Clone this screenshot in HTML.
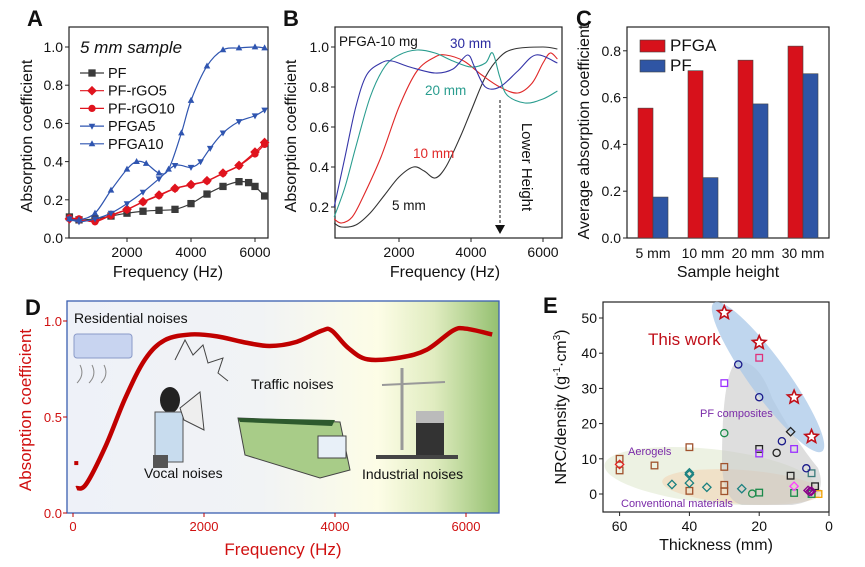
<!DOCTYPE html>
<html><head><meta charset="utf-8"><style>
html,body{margin:0;padding:0;background:#fff;}
svg{display:block;font-family:"Liberation Sans",Arial,sans-serif;}
</style></head><body>
<svg id="fig" width="865" height="567" viewBox="0 0 865 567">
<defs>
<linearGradient id="dbg" x1="0" x2="1" y1="0" y2="0">
<stop offset="0" stop-color="#eef1f8"/><stop offset="0.45" stop-color="#f1f3f5"/><stop offset="0.72" stop-color="#fdfde6"/><stop offset="0.85" stop-color="#e0ecc0"/><stop offset="1" stop-color="#94c070"/>
</linearGradient>
</defs>
<g id="gA"></g>
<g id="gB"></g>
<g id="gC"></g>
<g id="gD"></g>
<g id="gE"></g>
</svg>
<script>
// ---------- Panel A data ----------
const aFreqPF=[200,500,1000,1500,2000,2500,3000,3500,4000,4500,5000,5500,5800,6000,6300];
const aPF=[0.11,0.095,0.1,0.115,0.13,0.14,0.145,0.15,0.18,0.23,0.27,0.295,0.29,0.27,0.22];
const aFreqRGO=[200,500,1000,1500,2000,2500,3000,3500,4000,4500,5000,5500,6000,6300];
const aRGO5=[0.1,0.095,0.09,0.12,0.15,0.19,0.225,0.26,0.28,0.3,0.34,0.38,0.45,0.5];
const aRGO10=[0.105,0.1,0.085,0.118,0.148,0.188,0.222,0.258,0.278,0.298,0.338,0.378,0.44,0.49];
const aFreqGA5=[200,500,1000,1500,2000,2500,3000,3500,4000,4300,4600,5000,5500,6000,6300];
const aPFGA5=[0.1,0.085,0.1,0.13,0.18,0.24,0.31,0.38,0.37,0.4,0.47,0.55,0.61,0.64,0.67];
const aFreqGA10=[200,500,1000,1500,2000,2300,2600,3000,3300,3700,4000,4500,5000,5500,6000,6300];
const aPFGA10=[0.1,0.095,0.13,0.25,0.36,0.4,0.39,0.34,0.36,0.55,0.72,0.9,0.985,0.995,1.0,0.995];
const aXTicks=[2000,4000,6000];
const aYTicks=[0.0,0.2,0.4,0.6,0.8,1.0];
// ---------- Panel B data ----------
const b5f=[200,400,800,1200,1600,2000,2400,2700,3000,3300,3700,4000,4400,4800,5200,6000,6400];
const b5v=[0.12,0.1,0.11,0.17,0.26,0.35,0.4,0.38,0.345,0.4,0.55,0.68,0.85,0.95,0.99,1.0,0.99];
const b10f=[200,400,700,1000,1500,2000,2500,3000,3300,3800,4300,4800,5300,5700,6000,6200,6400];
const b10v=[0.14,0.12,0.15,0.25,0.45,0.7,0.88,0.95,0.96,0.93,0.86,0.8,0.77,0.82,0.92,0.97,0.94];
const b20f=[200,500,800,1200,1600,2000,2500,3000,3500,4000,4400,4600,4800,5000,5500,6000,6400];
const b20v=[0.15,0.3,0.5,0.75,0.9,0.96,0.985,0.97,0.93,0.9,0.92,0.97,0.85,0.76,0.72,0.74,0.78];
const b30f=[200,500,800,1100,1500,1800,2300,3000,3500,3900,4100,4400,4800,5300,5800,6400];
const b30v=[0.2,0.45,0.7,0.86,0.92,0.93,0.9,0.87,0.89,0.96,0.9,0.8,0.8,0.88,0.96,0.92];
const bYTicks=[0.2,0.4,0.6,0.8,1.0];
// ---------- Panel C data ----------
const cCats=["5 mm","10 mm","20 mm","30 mm"];
const cPFGA=[0.555,0.715,0.76,0.82];
const cPF=[0.175,0.258,0.573,0.702];
const cYTicks=[0.0,0.2,0.4,0.6,0.8];
// ---------- Panel D data ----------
const dFreq=[50,200,500,800,1100,1400,1800,2200,2600,3000,3400,3800,3950,4200,4500,5000,5400,5800,6000,6400];
const dVal=[0.13,0.15,0.35,0.6,0.8,0.9,0.93,0.92,0.89,0.87,0.89,0.95,0.95,0.86,0.8,0.81,0.85,0.95,0.96,0.93];
const dXTicks=[0,2000,4000,6000];
const dYTicks=[0.0,0.5,1.0];
// ---------- Panel E data ----------
const eStarT=[30,20,10,5];
const eStarV=[51.5,43,27.5,16.3];
const eSqT=[20,30,20,20,10,11,5,4,3,10,20,5,60,60,50,40,30,30,30,40];
const eSqV=[38.7,31.5,12.8,11.5,12.8,5.2,5.9,2.2,0,0.3,0.4,0,10,6.7,8.1,13.3,7.7,2.6,0.8,0.9];
const eSqC=["#e0307a","#9b30ff","#222","#9b30ff","#9b30ff","#222","#3a7a7a","#222","#f0a000","#1a8a4a","#1a8a4a","#1a8a4a","#a0522d","#a0522d","#a0522d","#a0522d","#a0522d","#a0522d","#a0522d","#a0522d"];
const eCiT=[26,20,13.5,6.5,30,22,15];
const eCiV=[36.8,27.5,15,7.3,17.3,0.1,11.7];
const eCiC=["#1a1a8a","#1a1a8a","#1a1a8a","#1a1a8a","#1a8a4a","#1a8a4a","#222"];
const eDiT=[11,45,40,40,40,35,25,60,10,6,5,5.5];
const eDiV=[17.7,2.7,6,5.5,3.1,1.9,1.5,8.4,2.2,1.0,0.8,0.7];
const eDiC=["#222","#1a8080","#1a8080","#1a8080","#1a8080","#1a8080","#1a8080","#e02020","#ff40ff","#8b008b","#8b008b","#8b008b"];
const eXTicks=[60,40,20,0];
const eYTicks=[0,10,20,30,40,50];

const NS="http://www.w3.org/2000/svg";
function mk(parent,tag,attrs,txt){const e=document.createElementNS(NS,tag);for(const k in attrs)e.setAttribute(k,attrs[k]);if(txt!==undefined)e.textContent=txt;parent.appendChild(e);return e;}
function smooth(pts){let d="M"+pts[0][0]+","+pts[0][1];for(let i=0;i<pts.length-1;i++){const p0=pts[Math.max(0,i-1)],p1=pts[i],p2=pts[i+1],p3=pts[Math.min(pts.length-1,i+2)];const c1x=p1[0]+(p2[0]-p0[0])/6,c1y=p1[1]+(p2[1]-p0[1])/6,c2x=p2[0]-(p3[0]-p1[0])/6,c2y=p2[1]-(p3[1]-p1[1])/6;d+=" C"+c1x+","+c1y+" "+c2x+","+c2y+" "+p2[0]+","+p2[1];}return d;}
function marker(g,shape,x,y,color,s,fill){let e;
 if(shape==="sq")e=mk(g,"rect",{x:x-s,y:y-s,width:2*s,height:2*s,fill:fill||color,stroke:color,"stroke-width":1.3});
 else if(shape==="ci")e=mk(g,"circle",{cx:x,cy:y,r:s,fill:fill||color,stroke:color,"stroke-width":1.3});
 else if(shape==="di")e=mk(g,"polygon",{points:`${x},${y-s*1.3} ${x+s*1.3},${y} ${x},${y+s*1.3} ${x-s*1.3},${y}`,fill:fill||color,stroke:color,"stroke-width":1.3});
 else if(shape==="up")e=mk(g,"polygon",{points:`${x},${y-s*1.2} ${x+s*1.1},${y+s*0.8} ${x-s*1.1},${y+s*0.8}`,fill:color});
 else if(shape==="dn")e=mk(g,"polygon",{points:`${x},${y+s*1.2} ${x+s*1.1},${y-s*0.8} ${x-s*1.1},${y-s*0.8}`,fill:color});
 else if(shape==="star"){let p=[];for(let i=0;i<10;i++){const r=i%2?s*0.45:s,a=-Math.PI/2+i*Math.PI/5;p.push((x+r*Math.cos(a)).toFixed(1)+","+(y+r*Math.sin(a)).toFixed(1));}e=mk(g,"polygon",{points:p.join(" "),fill:"#fff",stroke:color,"stroke-width":1.6});}
 return e;}
function text(g,x,y,t,o){return mk(g,"text",Object.assign({x:x,y:y,"font-size":13,fill:"#111"},o||{}),t);}

// ================= Panel A =================
(function(){const g=document.getElementById("gA");
const sx=f=>63+f*0.032, sy=v=>238-v*191;
const L=69,R=268,T=27,B=238;
const box=mk(g,"rect",{x:L,y:T,width:R-L,height:B-T,fill:"none",stroke:"#222","stroke-width":1.2});


aXTicks.forEach(t=>{mk(g,"line",{x1:sx(t),x2:sx(t),y1:B,y2:B+4,stroke:"#222"});const tl=text(g,sx(t),B+19,String(t),{"text-anchor":"middle","font-size":14});

});
aYTicks.forEach(t=>{mk(g,"line",{x1:L-4,x2:L,y1:sy(t),y2:sy(t),stroke:"#222"});const tl=text(g,L-6,sy(t)+5,t.toFixed(1),{"text-anchor":"end","font-size":14});

});
const series=[[aFreqPF,aPF,"#3a3a3a","sq","pf"],[aFreqRGO,aRGO5,"#e0141e","di","pf-rgo5"],[aFreqRGO,aRGO10,"#e0141e","ci","pf-rgo10"],[aFreqGA5,aPFGA5,"#2f55b0","dn","pfga5"],[aFreqGA10,aPFGA10,"#2f55b0","up","pfga10"]];
series.forEach(s=>{const pts=s[0].map((f,i)=>[sx(f),sy(s[1][i])]);
const p=mk(g,"path",{d:smooth(pts),fill:"none",stroke:s[2],"stroke-width":1.2});


pts.forEach(q=>{const m=marker(g,s[3],q[0],q[1],s[2],3);

});});
const t5=text(g,80,53,"5 mm sample",{"font-size":17,"font-style":"italic"});


const names=["PF","PF-rGO5","PF-rGO10","PFGA5","PFGA10"];
names.forEach((n,i)=>{const y=73+i*17.7;const lg=mk(g,"g",{});


mk(lg,"line",{x1:80,x2:104,y1:y,y2:y,stroke:series[i][2],"stroke-width":1.2});marker(lg,series[i][3],92,y,series[i][2],3);text(lg,108,y+5,n,{"font-size":14.5});});
const xt=text(g,168,277,"Frequency (Hz)",{"text-anchor":"middle","font-size":16});


const yt=text(g,0,0,"Absorption coefficient",{"text-anchor":"middle","font-size":16,transform:"translate(32,136) rotate(-90)"});


const lbl=text(g,27,26,"A",{"font-size":22,"font-weight":"bold"});


})();

// ================= Panel B =================
(function(){const g=document.getElementById("gB");
const sx=f=>327+f*0.036, sy=v=>247-v*200;
const L=335,R=562,T=27,B=238;
const box=mk(g,"rect",{x:L,y:T,width:R-L,height:B-T,fill:"none",stroke:"#222","stroke-width":1.2});


aXTicks.forEach(t=>{mk(g,"line",{x1:sx(t),x2:sx(t),y1:B,y2:B+4,stroke:"#222"});const tl=text(g,sx(t),B+19,String(t),{"text-anchor":"middle","font-size":14});

});
bYTicks.forEach(t=>{mk(g,"line",{x1:L-4,x2:L,y1:sy(t),y2:sy(t),stroke:"#222"});const tl=text(g,L-6,sy(t)+5,t.toFixed(1),{"text-anchor":"end","font-size":14});

});
const ser=[[b5f,b5v,"#333","5mm"],[b10f,b10v,"#e02828","10mm"],[b20f,b20v,"#2a9d8f","20mm"],[b30f,b30v,"#3535a8","30mm"]];
ser.forEach(s=>{const p=mk(g,"path",{d:smooth(s[0].map((f,i)=>[sx(f),sy(s[1][i])])),fill:"none",stroke:s[2],"stroke-width":1.1});

});
const labs=[[339,46,"PFGA-10 mg","#111"],[450,48,"30 mm","#2a2aa0"],[425,95,"20 mm","#2a9d8f"],[413,158,"10 mm","#e02828"],[392,210,"5 mm","#111"]];
labs.forEach(l=>{const t=text(g,l[0],l[1],l[2],{fill:l[3],"font-size":13.5});

});
const ar=mk(g,"line",{x1:500,x2:500,y1:100,y2:226,stroke:"#111","stroke-dasharray":"3,2"});


mk(g,"polygon",{points:"495,225 505,225 500,234",fill:"#111"});
const lh=text(g,0,0,"Lower Height",{"font-size":15,"text-anchor":"middle",transform:"translate(522,167) rotate(90)"});


const xt=text(g,445,277,"Frequency (Hz)",{"text-anchor":"middle","font-size":16});


const yt=text(g,0,0,"Absorption coefficient",{"text-anchor":"middle","font-size":16,transform:"translate(296,136) rotate(-90)"});


const lbl=text(g,283,26,"B",{"font-size":22,"font-weight":"bold"});


})();

// ================= Panel C =================
(function(){const g=document.getElementById("gC");
const sy=v=>238-v*234, cx=i=>653+i*50;
const L=627,R=829,T=27,B=238;
const box=mk(g,"rect",{x:L,y:T,width:R-L,height:B-T,fill:"none",stroke:"#222","stroke-width":1.2});


cYTicks.forEach(t=>{mk(g,"line",{x1:L-4,x2:L,y1:sy(t),y2:sy(t),stroke:"#222"});const tl=text(g,L-6,sy(t)+5,t.toFixed(1),{"text-anchor":"end","font-size":14});

});
cCats.forEach((c,i)=>{
const b1=mk(g,"rect",{x:cx(i)-15,y:sy(cPFGA[i]),width:15,height:B-sy(cPFGA[i]),fill:"#d7111b",stroke:"#444","stroke-width":0.6});


const b2=mk(g,"rect",{x:cx(i),y:sy(cPF[i]),width:15,height:B-sy(cPF[i]),fill:"#2f55a4",stroke:"#444","stroke-width":0.6});


const tl=text(g,cx(i),B+20,c,{"text-anchor":"middle","font-size":14});

});
const l1=mk(g,"g",{});


mk(l1,"rect",{x:640,y:40,width:25,height:12,fill:"#d7111b",stroke:"#444","stroke-width":0.6});text(l1,670,51,"PFGA",{"font-size":17});
const l2=mk(g,"g",{});


mk(l2,"rect",{x:640,y:60,width:25,height:12,fill:"#2f55a4",stroke:"#444","stroke-width":0.6});text(l2,670,71,"PF",{"font-size":17});
const xt=text(g,728,277,"Sample height",{"text-anchor":"middle","font-size":16});


const yt=text(g,0,0,"Average absorption coefficient",{"text-anchor":"middle","font-size":16,transform:"translate(589,132) rotate(-90)"});


const lbl=text(g,576,26,"C",{"font-size":22,"font-weight":"bold"});


})();

// ================= Panel D =================
(function(){const g=document.getElementById("gD");
const sx=f=>73+f*0.0655, sy=v=>513-v*192;
const L=67,R=499,T=301,B=513;
const bg=mk(g,"rect",{x:L,y:T,width:R-L,height:B-T,fill:"url(#dbg)",stroke:"#3a5fb0","stroke-width":1.3});


// icons
const ac=mk(g,"g",{});


mk(ac,"rect",{x:74,y:334,width:58,height:24,rx:3,fill:"#c8d4f0",stroke:"#8a9ac8"});
mk(ac,"path",{d:"M80 365 q5 10 -3 18 M92 365 q5 10 -3 18 M104 365 q5 10 -3 18",fill:"none",stroke:"#888"});
const man=mk(g,"g",{});


mk(man,"path",{d:"M175 360 l10 -20 l8 15 l10 -10 l5 18 l15 -5 l-5 15 l10 8",fill:"none",stroke:"#444"});
mk(man,"ellipse",{cx:170,cy:400,rx:10,ry:13,fill:"#222"});
mk(man,"rect",{x:155,y:412,width:28,height:50,fill:"#c8dcee",stroke:"#555"});
mk(man,"rect",{x:153,y:455,width:15,height:13,fill:"#555"});
mk(man,"polygon",{points:"180,408 200,392 204,430 184,420",fill:"#eee",stroke:"#444"});
const tr=mk(g,"g",{});


mk(tr,"polygon",{points:"238,418 340,422 350,470 320,478 245,455",fill:"#a8cc88",stroke:"#444"});
mk(tr,"polygon",{points:"238,418 335,420 332,426 240,422",fill:"#2d5a2d"});
mk(tr,"rect",{x:318,y:436,width:28,height:22,fill:"#e8f0f8",stroke:"#444"});
const bd=mk(g,"g",{});


mk(bd,"line",{x1:402,x2:402,y1:368,y2:450,stroke:"#999","stroke-width":3});
mk(bd,"line",{x1:382,x2:445,y1:385,y2:382,stroke:"#999","stroke-width":2});
mk(bd,"rect",{x:416,y:411,width:28,height:46,fill:"#333"});
mk(bd,"rect",{x:416,y:411,width:28,height:12,fill:"#bbb"});
mk(bd,"rect",{x:376,y:455,width:82,height:4,fill:"#444"});
const nl=[[74,323,"Residential noises"],[144,478,"Vocal noises"],[251,389,"Traffic noises"],[362,479,"Industrial noises"]];
nl.forEach(n=>{const t=text(g,n[0],n[1],n[2],{"font-size":14});

});
const p=mk(g,"path",{d:smooth(dFreq.map((f,i)=>[sx(f),sy(dVal[i])])),fill:"none",stroke:"#c00000","stroke-width":4.5});


mk(g,"rect",{x:sx(50)-2,y:sy(0.26)-2,width:4,height:4,fill:"#c00000"});
dXTicks.forEach(t=>{mk(g,"line",{x1:sx(t),x2:sx(t),y1:B,y2:B+4,stroke:"#c00000"});const tl=text(g,sx(t),B+18,String(t),{"text-anchor":"middle","font-size":13,fill:"#d01010"});

});
dYTicks.forEach(t=>{mk(g,"line",{x1:L-4,x2:L,y1:sy(t),y2:sy(t),stroke:"#c00000"});const tl=text(g,L-5,sy(t)+5,t.toFixed(1),{"text-anchor":"end","font-size":13,fill:"#d01010"});

});
const xt=text(g,283,555,"Frequency (Hz)",{"text-anchor":"middle","font-size":17,fill:"#d01010"});


const yt=text(g,0,0,"Absorption coefficient",{"text-anchor":"middle","font-size":17,fill:"#d01010",transform:"translate(31,410) rotate(-90)"});


const lbl=text(g,25,315,"D",{"font-size":22,"font-weight":"bold"});


})();

// ================= Panel E =================
(function(){const g=document.getElementById("gE");
const sx=t=>829-t*3.49, sy=v=>494-v*3.52;
const L=603,R=829,T=302,B=512;
const box=mk(g,"rect",{x:L,y:T,width:R-L,height:B-T,fill:"#fff",stroke:"#222","stroke-width":1.2});


const r1=mk(g,"ellipse",{cx:710,cy:476,rx:106,ry:27,fill:"#e8efdc",opacity:0.8,transform:"rotate(6 710 476)"});


const r2=mk(g,"ellipse",{cx:742,cy:487,rx:80,ry:17,fill:"#f0dcc0",opacity:0.8,transform:"rotate(4 742 487)"});


const r3=mk(g,"path",{d:"M736 362 Q758 358 772 398 Q795 440 818 468 Q830 500 792 505 L742 505 Q722 500 722 460 Q722 376 736 362 Z",fill:"#c8c8c8",opacity:0.6});


const r4=mk(g,"ellipse",{cx:768,cy:377,rx:92,ry:19,fill:"#a9c8e8",opacity:0.75,transform:"rotate(54 768 377)"});


eSqT.forEach((t,i)=>{const m=marker(g,"sq",sx(t),sy(eSqV[i]),eSqC[i],3.3,"none");

});
eCiT.forEach((t,i)=>{const m=marker(g,"ci",sx(t),sy(eCiV[i]),eCiC[i],3.6,"none");

});
eDiT.forEach((t,i)=>{const m=marker(g,"di",sx(t),sy(eDiV[i]),eDiC[i],3.2,"none");

});
eStarT.forEach((t,i)=>{const m=marker(g,"star",sx(t),sy(eStarV[i]),"#c0101a",7);

});
const tw=text(g,648,345,"This work",{"font-size":17,fill:"#c0101a"});


const gl=[[700,417,"PF composites"],[628,455,"Aerogels"],[621,507,"Conventional materials"]];
gl.forEach(l=>{const t=text(g,l[0],l[1],l[2],{"font-size":11,fill:"#7a2aa8"});

});
eXTicks.forEach(t=>{mk(g,"line",{x1:sx(t),x2:sx(t),y1:B,y2:B+4,stroke:"#222"});const tl=text(g,sx(t),B+19,String(t),{"text-anchor":"middle","font-size":14});

});
eYTicks.forEach(t=>{mk(g,"line",{x1:L-4,x2:L,y1:sy(t),y2:sy(t),stroke:"#222"});const tl=text(g,L-6,sy(t)+5,String(t),{"text-anchor":"end","font-size":14});

});
const xt=text(g,716,550,"Thickness (mm)",{"text-anchor":"middle","font-size":16});


const yt=mk(g,"text",{"text-anchor":"middle","font-size":16,fill:"#111",transform:"translate(566,407) rotate(-90)"});


yt.innerHTML='NRC/density (g<tspan font-size="10" dy="-6">-1</tspan><tspan dy="6">·cm</tspan><tspan font-size="10" dy="-6">3</tspan><tspan dy="6">)</tspan>';
const lbl=text(g,543,313,"E",{"font-size":22,"font-weight":"bold"});


})();
</script>
</body></html>
